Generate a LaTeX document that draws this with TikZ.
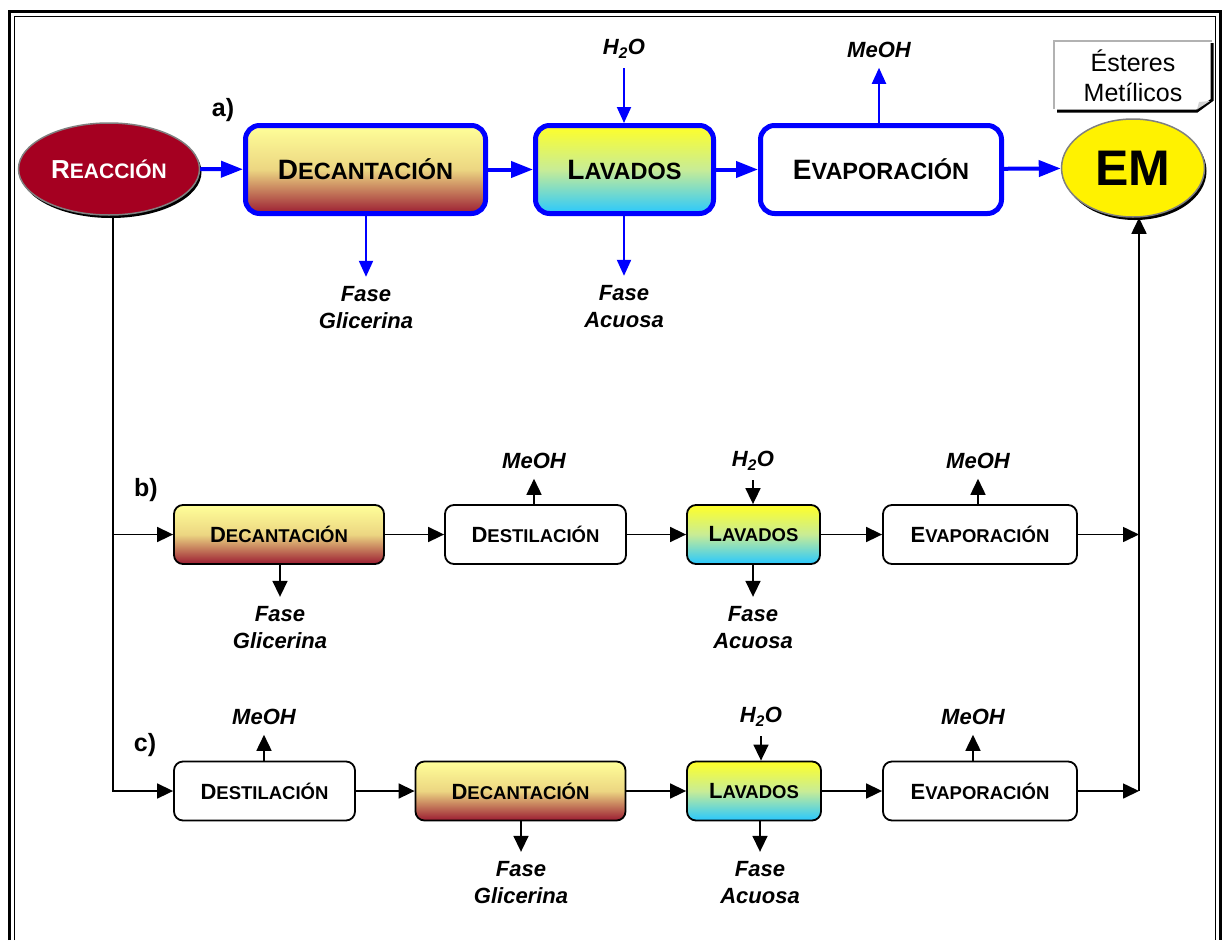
\documentclass[tikz,border=0pt]{standalone}
\usepackage{fontspec}
\setmainfont{Liberation Sans}
\usetikzlibrary{arrows.meta,shapes.geometric,shadows}

\definecolor{decTop}{RGB}{255,255,153}
\definecolor{decMid}{RGB}{236,214,130}
\definecolor{decBot}{RGB}{155,28,50}
\definecolor{lavTop}{RGB}{255,255,40}
\definecolor{lavMid}{RGB}{200,236,150}
\definecolor{lavBot}{RGB}{40,200,255}
\definecolor{reacRed}{RGB}{165,0,33}
\definecolor{pureBlue}{RGB}{0,0,255}

\newcommand{\smcap}[4]{{\fontsize{#1}{#1}\selectfont #3}{\fontsize{#2}{#2}\selectfont #4}}
\newcommand{\scA}{\smcap{28}{23.5}}
\newcommand{\scB}{\smcap{22}{18.5}}

\tikzset{
  procA/.style={rectangle, rounded corners=14pt, draw=pureBlue, line width=5pt, minimum height=88pt, inner sep=0pt, font=\bfseries},
  procB/.style={rectangle, rounded corners=9pt, draw=black, line width=1.8pt, minimum height=59pt, inner sep=0pt, font=\bfseries},
  decfill/.style={top color=decTop, bottom color=decBot, middle color=decMid},
  lavfill/.style={top color=lavTop, bottom color=lavBot, middle color=lavMid},
  bluearr/.style={draw=pureBlue, line width=4pt, -{Triangle[length=22pt,width=16pt]}},
  bluethin/.style={draw=pureBlue, line width=2pt, -{Triangle[length=16pt,width=14pt]}},
  blkarr/.style={draw=black, line width=1.6pt, -{Triangle[length=16pt,width=15pt]}},
  stream/.style={font=\fontsize{22}{27}\selectfont\bfseries\itshape, align=center, inner sep=0pt, outer ysep=10pt},
  tag/.style={font=\fontsize{25}{25}\selectfont\bfseries, inner sep=0pt},
  shadowed/.style={drop shadow={shadow xshift=2pt, shadow yshift=-3pt, fill=black, opacity=1}},
}

\begin{document}
\begin{tikzpicture}[x=1pt,y=-1pt]
\useasboundingbox (0,0) rectangle (1223,940);

%draw double frame
\draw[line width=3pt] (9.5,940) -- (9.5,11.5) -- (1220.5,11.5) -- (1220.5,940);
\draw[line width=1.5pt] (14.5,940) -- (14.5,16.5) -- (1215.5,16.5) -- (1215.5,940);

%draw row a
\node[tag] (labA) at (223,110) {a)};
\node[ellipse, shadowed, fill=reacRed, draw=gray, line width=1.5pt, minimum width=181pt, minimum height=92pt, inner sep=0pt, text=white, font=\bfseries] (reaccion) at (109,169) {\smcap{26}{21}{R}{EACCIÓN}};
\node[procA, decfill, minimum width=240pt] (decA) at (365.5,169.5) {\scA{D}{ECANTACIÓN}};
\node[procA, lavfill, minimum width=178pt] (lavA) at (624.5,169.5) {\scA{L}{AVADOS}};
\node[procA, fill=white, minimum width=241pt] (evapA) at (881,169.5) {\scA{E}{VAPORACIÓN}};
\node[ellipse, shadowed, fill=yellow, draw=gray, line width=1.5pt, minimum width=143pt, minimum height=98pt, inner sep=0pt, font=\fontsize{50}{50}\selectfont\bfseries] (em) at (1133,168) {EM};

%note over EM
\node[font=\fontsize{25}{30}\selectfont, align=center, inner sep=0pt] (nota) at (1133,76) {Ésteres\\Metílicos};
\draw[gray!60, line width=1.5pt] (1054,109) -- (1054,41) -- (1212,41);
\draw[line width=3pt] (1212,43) -- (1212,100) -- (1197,111) -- (1057,111);
\fill[gray!35] (1210,101) -- (1197,109.5) -- (1199,102) -- cycle;

\node[stream] (h2oA) at (624,49) {H\textsubscript{2}O};
\node[stream] (meohA) at (879,50) {MeOH};
\node[stream] (fgA) at (366,308) {Fase\\Glicerina};
\node[stream] (faA) at (624,307) {Fase\\Acuosa};

\foreach \a/\b in {reaccion/decA, decA/lavA, lavA/evapA, evapA/em}
  \draw[bluearr] (\a) -- (\b);
\draw[bluethin] (h2oA) -- (h2oA |- lavA.north);
\draw[bluethin] (meohA |- evapA.north) -- (meohA);
\draw[bluethin] (fgA |- decA.south) -- (fgA);
\draw[bluethin] (faA |- lavA.south) -- (faA);

%draw row b
\node[tag] (labB) at (146,490) {b)};
\node[procB, decfill, minimum width=210pt] (decB) at (279,534.5) {\scB{D}{ECANTACIÓN}};
\node[procB, fill=white, minimum width=181pt] (destB) at (535.5,534.5) {\scB{D}{ESTILACIÓN}};
\node[procB, lavfill, minimum width=133pt] (lavB) at (753.5,534.5) {\scB{L}{AVADOS}};
\node[procB, fill=white, minimum width=194pt] (evapB) at (980,534.5) {\scB{E}{VAPORACIÓN}};
\node[stream] (meohB1) at (534,461) {MeOH};
\node[stream] (h2oB) at (753,461) {H\textsubscript{2}O};
\node[stream] (meohB2) at (978,461) {MeOH};
\node[stream] (fgB) at (280,628) {Fase\\Glicerina};
\node[stream] (faB) at (753,628) {Fase\\Acuosa};

%draw row c
\node[tag] (labC) at (145,745) {c)};
\node[procB, fill=white, minimum width=181pt] (destC) at (264.5,791) {\scB{D}{ESTILACIÓN}};
\node[procB, decfill, minimum width=210pt] (decC) at (520.5,791) {\scB{D}{ECANTACIÓN}};
\node[procB, lavfill, minimum width=134pt] (lavC) at (754,791) {\scB{L}{AVADOS}};
\node[procB, fill=white, minimum width=194pt] (evapC) at (980,791) {\scB{E}{VAPORACIÓN}};
\node[stream] (meohC1) at (264,717) {MeOH};
\node[stream] (h2oC) at (761,717) {H\textsubscript{2}O};
\node[stream] (meohC2) at (973,717) {MeOH};
\node[stream] (fgC) at (521,883) {Fase\\Glicerina};
\node[stream] (faC) at (760,883) {Fase\\Acuosa};

%split and join points
\coordinate (splitb) at (113,534.5);
\coordinate (splitc) at (113,791);
\coordinate (joinb) at (1139,534.5);
\coordinate (joinc) at (1139,791);

%draw black connectors
\draw[blkarr] (reaccion.south -| splitc) -- (splitc) -- (destC);
\draw[blkarr] (splitb) -- (decB);
\foreach \a/\b in {decB/destB, destB/lavB, lavB/evapB, evapB/joinb, destC/decC, decC/lavC, lavC/evapC, evapC/joinc}
  \draw[blkarr] (\a) -- (\b);
\draw[blkarr] (joinc) -- (em.south -| joinc);
\foreach \s/\p in {meohB1/destB, meohB2/evapB, meohC1/destC, meohC2/evapC}
  \draw[blkarr] (\s |- \p.north) -- (\s);
\foreach \s/\p in {h2oB/lavB, h2oC/lavC}
  \draw[blkarr] (\s) -- (\s |- \p.north);
\foreach \s/\p in {fgB/decB, faB/lavB, fgC/decC, faC/lavC}
  \draw[blkarr] (\s |- \p.south) -- (\s);

\end{tikzpicture}
\end{document}
